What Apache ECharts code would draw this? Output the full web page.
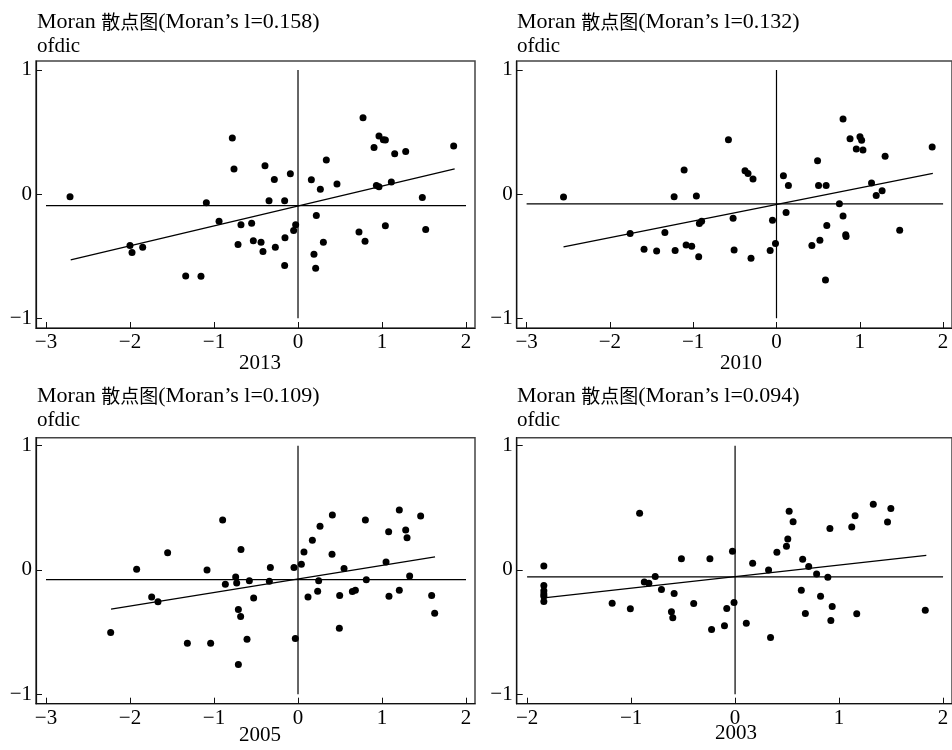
<!DOCTYPE html>
<html>
<head>
<meta charset="utf-8">
<title>Moran 散点图</title>
<script src="https://cdn.jsdelivr.net/npm/echarts@6/dist/echarts.min.js"></script>
<style>
  html, body { margin: 0; padding: 0; background: #fff; }
  #main { width: 952px; height: 750px; }
</style>
</head>
<body>
<div id="main"></div>
<script>
// 年份 + Moran's I
var years = ["2013", "2010", "2005", "2003"];
var moranI = ["0.158", "0.132", "0.109", "0.094"];

// 2013
var x2013 = [-2.714, -0.782, -0.762, -1.091, -0.940, -2.0, -1.976, -1.849, -1.337, -1.155,
  -0.679, -0.552, -0.714, -0.532, -0.440, -0.417, -0.270, -0.155, -0.159, -0.052,
  -0.028, -0.393, -0.282, -0.345, -0.159, -0.091, 0.159, 0.266, 0.337, 0.464,
  0.218, 0.302, 0.190, 0.210, 0.774, 0.905, 0.964, 1.016, 1.040, 1.151,
  1.282, 0.933, 0.964, 1.111, 0.726, 0.798, 1.040, 1.480, 1.520, 1.853];
var y2013 = [-0.022, 0.452, 0.202, -0.070, -0.218, -0.414, -0.470, -0.427, -0.659, -0.661,
  -0.247, -0.234, -0.406, -0.376, -0.387, -0.462, -0.427, -0.352, -0.575, -0.293,
  -0.247, 0.228, 0.118, -0.054, -0.054, 0.164, 0.116, 0.040, 0.274, 0.081,
  -0.172, -0.387, -0.484, -0.597, 0.616, 0.376, 0.468, 0.438, 0.435, 0.325,
  0.344, 0.070, 0.059, 0.097, -0.304, -0.379, -0.255, -0.027, -0.285, 0.387];
var fit2013 = [[-2.706, -0.530], [1.865, 0.204]];
var mean2013 = -0.092;

// 2010
var x2010 = [-2.557, -1.757, -1.590, -1.439, -1.340, -1.217, -1.229, -1.109, -1.085, -1.018,
  -0.962, -0.934, -0.926, -0.899, -0.577, -0.521, -0.509, -0.378, -0.342, -0.282,
  -0.306, -0.076, -0.048, -0.012, 0.083, 0.143, 0.115, 0.425, 0.493, 0.505,
  0.596, 0.521, 0.604, 0.588, 0.755, 0.799, 0.831, 0.835, 0.799, 0.883,
  1.002, 1.022, 0.958, 1.038, 1.141, 1.197, 1.268, 1.304, 1.479, 1.869];
var y2010 = [-0.024, -0.317, -0.444, -0.457, -0.309, -0.454, -0.022, 0.194, -0.409, -0.419,
  -0.016, -0.505, -0.237, -0.218, 0.438, -0.194, -0.449, 0.188, 0.167, 0.121,
  -0.516, -0.454, -0.210, -0.398, 0.148, 0.070, -0.148, -0.414, 0.269, 0.070,
  0.070, -0.371, -0.253, -0.691, -0.078, -0.177, -0.328, -0.341, 0.605, 0.446,
  0.462, 0.433, 0.363, 0.355, 0.089, -0.011, 0.027, 0.306, -0.290, 0.379];
var fit2010 = [[-2.557, -0.425], [1.877, 0.167]];
var mean2010 = -0.078;

// 2005
var x2005 = [-2.230, -1.921, -1.742, -1.667, -1.552, -1.317, -1.083, -1.040, -0.897, -0.865,
  -0.742, -0.730, -0.679, -0.579, -0.710, -0.683, -0.607, -0.528, -0.710, -0.341,
  -0.329, -0.048, 0.040, -0.032, 0.071, 0.171, 0.262, 0.119, 0.234, 0.246,
  0.409, 0.405, 0.548, 0.496, 0.492, 0.647, 0.683, 0.802, 0.813, 1.048,
  1.079, 1.083, 1.206, 1.282, 1.298, 1.206, 1.329, 1.460, 1.591, 1.627];
var y2005 = [-0.504, 0.005, -0.217, -0.255, 0.139, -0.590, 0.000, -0.590, 0.402, -0.115,
  -0.056, -0.105, 0.164, -0.086, -0.319, -0.375, -0.558, -0.225, -0.761, -0.091,
  0.019, 0.019, 0.046, -0.552, 0.145, 0.239, 0.351, -0.217, -0.172, -0.086,
  0.442, 0.126, 0.011, -0.206, -0.469, -0.174, -0.164, 0.402, -0.078, 0.064,
  0.308, -0.212, 0.483, 0.322, 0.260, -0.164, -0.048, 0.434, -0.206, -0.349];
var fit2005 = [[-2.226, -0.316], [1.631, 0.105]];
var mean2005 = -0.078;

// 2003
var x2003 = [-1.839, -1.839, -1.839, -1.839, -1.839, -1.839, -1.182, -1.007, -0.918, -0.873,
  -0.829, -0.768, -0.708, -0.586, -0.612, -0.599, -0.516, -0.398, -0.242, -0.226,
  -0.102, -0.080, -0.025, -0.010, 0.108, 0.169, 0.322, 0.341, 0.402, 0.494,
  0.507, 0.520, 0.558, 0.637, 0.650, 0.676, 0.708, 0.784, 0.822, 0.892,
  0.934, 0.921, 0.912, 1.122, 1.154, 1.170, 1.329, 1.466, 1.498, 1.829];
var y2003 = [0.032, -0.126, -0.168, -0.193, -0.211, -0.254, -0.267, -0.313, 0.457, -0.096,
  -0.107, -0.053, -0.158, -0.190, -0.337, -0.385, 0.091, -0.270, 0.091, -0.479,
  -0.449, -0.310, 0.150, -0.262, -0.428, 0.053, 0.000, -0.543, 0.142, 0.190,
  0.249, 0.473, 0.388, -0.163, 0.086, -0.350, 0.027, -0.032, -0.211, -0.059,
  -0.294, -0.406, 0.334, 0.345, 0.436, -0.353, 0.529, 0.385, 0.495, -0.324];
var fit2003 = [[-1.839, -0.225], [1.839, 0.118]];
var mean2003 = -0.056;

// 刻度
var xTicksWide = [-3, -2, -1, 0, 1, 2];
var xTicksNarrow = [-2, -1, 0, 1, 2];
var yTicks = [-1, 0, 1];

var serif = "'Liberation Serif', 'Times New Roman', serif";
var cjk = "'Noto Sans CJK SC', sans-serif";

function pairs(xs, ys) {
  return xs.map(function (x, i) { return [x, ys[i]]; });
}
function minusSign(v) {
  return v < 0 ? "\u2212" + Math.abs(v) : String(v);
}

var panels = [
  { xs: x2013, ys: y2013, fit: fit2013, mean: mean2013, hx: [-3, 2], ticks: xTicksWide,
    grid: { left: 36, top: 61, width: 439, height: 267 }, xr: [-3.119, 2.107], yr: [-1.078, 1.072],
    tx: 37, ty: 22, yearX: 260, yearY: 363 },
  { xs: x2010, ys: y2010, fit: fit2010, mean: mean2010, hx: [-3, 2], ticks: xTicksWide,
    grid: { left: 516.7, top: 61, width: 438, height: 267 }, xr: [-3.119, 2.107], yr: [-1.078, 1.072],
    tx: 517, ty: 22, yearX: 741, yearY: 363 },
  { xs: x2005, ys: y2005, fit: fit2005, mean: mean2005, hx: [-3, 2], ticks: xTicksWide,
    grid: { left: 36, top: 437.7, width: 439, height: 266 }, xr: [-3.119, 2.107], yr: [-1.076, 1.064],
    tx: 37, ty: 396, yearX: 260, yearY: 735 },
  { xs: x2003, ys: y2003, fit: fit2003, mean: mean2003, hx: [-2, 2], ticks: xTicksNarrow,
    grid: { left: 516.7, top: 437.7, width: 438, height: 266 }, xr: [-2.1, 2.086], yr: [-1.076, 1.064],
    tx: 517, ty: 396, yearX: 736, yearY: 733 }
];

var grids = [], xAxes = [], yAxes = [], series = [], texts = [];

panels.forEach(function (p, i) {
  grids.push({
    left: p.grid.left, top: p.grid.top, width: p.grid.width, height: p.grid.height,
    show: true, borderColor: "#444", borderWidth: 1.5, containLabel: false
  });
  xAxes.push({
    type: "value", gridIndex: i, min: p.xr[0], max: p.xr[1],
    splitLine: { show: false },
    axisLine: { show: true, onZero: false, lineStyle: { color: "#111", width: 1.2 } },
    axisTick: { show: true, inside: true, length: 6, customValues: p.ticks, lineStyle: { color: "#111" } },
    axisLabel: { customValues: p.ticks, margin: 4, fontSize: 21, fontFamily: serif, color: "#000", formatter: minusSign }
  });
  yAxes.push({
    type: "value", gridIndex: i, min: p.yr[0], max: p.yr[1],
    splitLine: { show: false },
    axisLine: { show: true, onZero: false, lineStyle: { color: "#111", width: 1.2 } },
    axisTick: { show: true, inside: true, length: 6, customValues: yTicks, lineStyle: { color: "#111" } },
    axisLabel: { customValues: yTicks, margin: 4, fontSize: 21, fontFamily: serif, color: "#000", formatter: minusSign }
  });
  // 均值线
  series.push({
    type: "line", xAxisIndex: i, yAxisIndex: i, symbol: "none", silent: true,
    data: [[p.hx[0], p.mean], [p.hx[1], p.mean]],
    lineStyle: { color: "#000", width: 1.2 }
  });
  series.push({
    type: "line", xAxisIndex: i, yAxisIndex: i, symbol: "none", silent: true,
    data: [[0, -1], [0, 1]],
    lineStyle: { color: "#000", width: 1.2 }
  });
  // 拟合线
  series.push({
    type: "line", xAxisIndex: i, yAxisIndex: i, symbol: "none", silent: true,
    data: p.fit,
    lineStyle: { color: "#000", width: 1.3 }
  });
  series.push({
    type: "scatter", xAxisIndex: i, yAxisIndex: i, symbolSize: 7,
    data: pairs(p.xs, p.ys),
    itemStyle: { color: "#000", opacity: 1 }
  });

  texts.push({
    type: "text", x: p.tx, y: p.ty,
    style: {
      text: "Moran {c|散点图}(Moran\u2019s l=" + moranI[i] + ")",
      fontSize: 22, fontFamily: serif, fill: "#000", verticalAlign: "middle",
      rich: { c: { fontSize: 19, fontFamily: cjk, fill: "#000" } }
    }
  });
  texts.push({
    type: "text", x: p.tx, y: p.ty + 24,
    style: { text: "ofdic", fontSize: 21, fontFamily: serif, fill: "#000", verticalAlign: "middle" }
  });
  texts.push({
    type: "text", x: p.yearX, y: p.yearY,
    style: { text: years[i], fontSize: 21, fontFamily: serif, fill: "#000", align: "center", verticalAlign: "middle" }
  });
});

var chart = echarts.init(document.getElementById("main"), null, { renderer: "canvas" });
chart.setOption({
  animation: false,
  backgroundColor: "#fff",
  grid: grids,
  xAxis: xAxes,
  yAxis: yAxes,
  series: series,
  graphic: texts
});
</script>
</body>
</html>
